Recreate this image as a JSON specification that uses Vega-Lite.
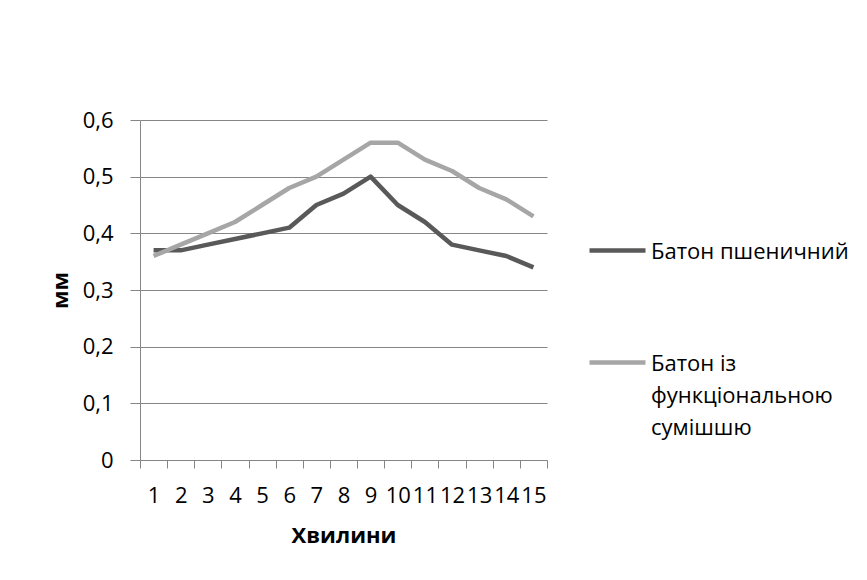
{
  "$schema": "https://vega.github.io/schema/vega-lite/v6.json",
  "width": 407,
  "height": 340,
  "autosize": "none",
  "padding": {"left": 140, "top": 120, "right": 320, "bottom": 120},
  "background": "white",
  "data": {
    "values": [
      {"minute": 1, "series": "Батон пшеничний", "mm": 0.37},
      {"minute": 2, "series": "Батон пшеничний", "mm": 0.37},
      {"minute": 3, "series": "Батон пшеничний", "mm": 0.38},
      {"minute": 4, "series": "Батон пшеничний", "mm": 0.39},
      {"minute": 5, "series": "Батон пшеничний", "mm": 0.40},
      {"minute": 6, "series": "Батон пшеничний", "mm": 0.41},
      {"minute": 7, "series": "Батон пшеничний", "mm": 0.45},
      {"minute": 8, "series": "Батон пшеничний", "mm": 0.47},
      {"minute": 9, "series": "Батон пшеничний", "mm": 0.50},
      {"minute": 10, "series": "Батон пшеничний", "mm": 0.45},
      {"minute": 11, "series": "Батон пшеничний", "mm": 0.42},
      {"minute": 12, "series": "Батон пшеничний", "mm": 0.38},
      {"minute": 13, "series": "Батон пшеничний", "mm": 0.37},
      {"minute": 14, "series": "Батон пшеничний", "mm": 0.36},
      {"minute": 15, "series": "Батон пшеничний", "mm": 0.34},
      {"minute": 1, "series": "Батон із функціональною сумішшю", "mm": 0.36},
      {"minute": 2, "series": "Батон із функціональною сумішшю", "mm": 0.38},
      {"minute": 3, "series": "Батон із функціональною сумішшю", "mm": 0.40},
      {"minute": 4, "series": "Батон із функціональною сумішшю", "mm": 0.42},
      {"minute": 5, "series": "Батон із функціональною сумішшю", "mm": 0.45},
      {"minute": 6, "series": "Батон із функціональною сумішшю", "mm": 0.48},
      {"minute": 7, "series": "Батон із функціональною сумішшю", "mm": 0.50},
      {"minute": 8, "series": "Батон із функціональною сумішшю", "mm": 0.53},
      {"minute": 9, "series": "Батон із функціональною сумішшю", "mm": 0.56},
      {"minute": 10, "series": "Батон із функціональною сумішшю", "mm": 0.56},
      {"minute": 11, "series": "Батон із функціональною сумішшю", "mm": 0.53},
      {"minute": 12, "series": "Батон із функціональною сумішшю", "mm": 0.51},
      {"minute": 13, "series": "Батон із функціональною сумішшю", "mm": 0.48},
      {"minute": 14, "series": "Батон із функціональною сумішшю", "mm": 0.46},
      {"minute": 15, "series": "Батон із функціональною сумішшю", "mm": 0.43}
    ]
  },
  "mark": {"type": "line", "strokeWidth": 4.5, "strokeJoin": "round", "strokeCap": "butt"},
  "encoding": {
    "x": {
      "field": "minute",
      "type": "ordinal",
      "bandPosition": 0.5,
      "scale": {"type": "band", "paddingInner": 0, "paddingOuter": 0},
      "axis": {
        "title": "Хвилини",
        "tickBand": "extent",
        "labelAngle": 0,
        "labelOverlap": false,
        "labelBound": false,
        "labelFont": "Open Sans",
        "labelFontSize": 22,
        "labelColor": "#000000",
        "labelPadding": 17,
        "tickSize": 8,
        "tickColor": "#868686",
        "domainColor": "#868686",
        "grid": false,
        "titleFont": "Open Sans",
        "titleFontSize": 22,
        "titleFontWeight": "bold",
        "titleColor": "#000000",
        "titleBaseline": "alphabetic",
        "titleY": 82
      }
    },
    "y": {
      "field": "mm",
      "type": "quantitative",
      "scale": {"domain": [0, 0.6], "nice": false},
      "axis": {
        "title": "мм",
        "values": [0, 0.1, 0.2, 0.3, 0.4, 0.5, 0.6],
        "labelExpr": "datum.value == 0 ? '0' : replace(format(datum.value, '.1f'), '.', ',')",
        "labelFont": "Open Sans",
        "labelFontSize": 22,
        "labelColor": "#000000",
        "labelPadding": 17,
        "tickSize": 10,
        "tickColor": "#868686",
        "domainColor": "#868686",
        "grid": true,
        "gridColor": "#868686",
        "gridWidth": 1,
        "titleFont": "Open Sans",
        "titleFontSize": 22,
        "titleFontWeight": "bold",
        "titleColor": "#000000",
        "titleAngle": -90,
        "titleAlign": "center",
        "titleBaseline": "alphabetic",
        "titleX": -73,
        "titleY": 170
      }
    },
    "color": {
      "field": "series",
      "type": "nominal",
      "sort": ["Батон пшеничний", "Батон із функціональною сумішшю"],
      "scale": {
        "domain": ["Батон пшеничний", "Батон із функціональною сумішшю"],
        "range": ["#595959", "#a6a6a6"]
      },
      "legend": {
        "title": null,
        "orient": "none",
        "legendX": 447,
        "legendY": 100,
        "padding": 0,
        "symbolType": "stroke",
        "symbolSize": 3136,
        "symbolStrokeWidth": 4.5,
        "labelFont": "Open Sans",
        "labelFontSize": 22,
        "labelColor": "#000000",
        "labelOffset": 3,
        "labelLimit": 400,
        "labelBaseline": "alphabetic",
        "rowPadding": 69,
        "labelExpr": "datum.label == 'Батон із функціональною сумішшю' ? ['Батон із', 'функціональною', 'сумішшю'] : datum.label",
        "encode": {
          "labels": {"update": {"lineHeight": {"value": 32}, "dy": {"value": 8}}}
        }
      }
    }
  },
  "config": {
    "view": {"stroke": null},
    "font": "Open Sans"
  }
}
